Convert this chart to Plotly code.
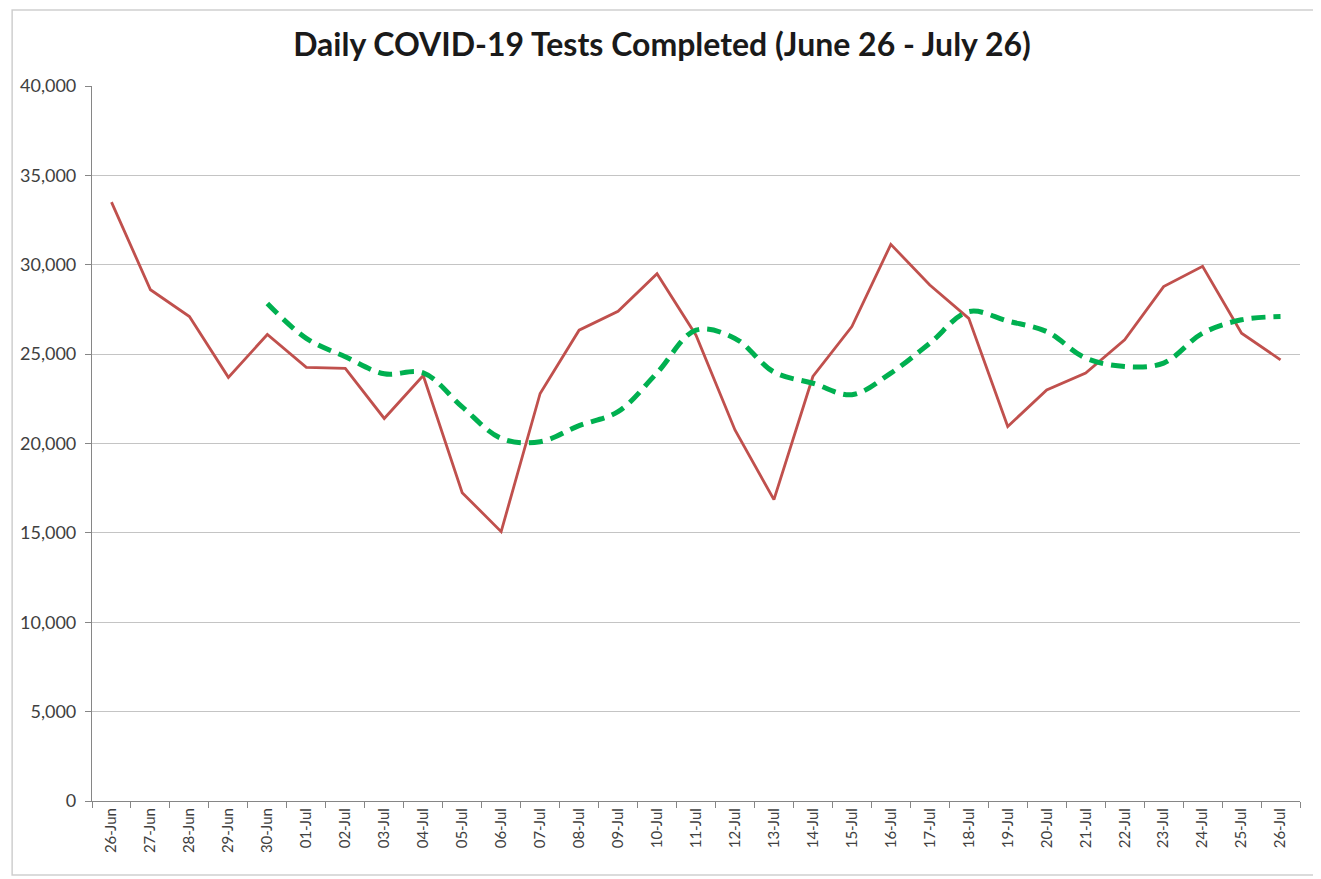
import plotly.graph_objects as go

dates = ["26-Jun", "27-Jun", "28-Jun", "29-Jun", "30-Jun", "01-Jul", "02-Jul", "03-Jul",
         "04-Jul", "05-Jul", "06-Jul", "07-Jul", "08-Jul", "09-Jul", "10-Jul", "11-Jul",
         "12-Jul", "13-Jul", "14-Jul", "15-Jul", "16-Jul", "17-Jul", "18-Jul", "19-Jul",
         "20-Jul", "21-Jul", "22-Jul", "23-Jul", "24-Jul", "25-Jul", "26-Jul"]

daily_tests = [33500, 28600, 27100, 23700, 26100, 24260, 24200, 21400,
               23800, 17250, 15070, 22800, 26340, 27400, 29500, 26060,
               20760, 16860, 23750, 26540, 31140, 28870, 27000, 20950,
               23000, 23940, 25800, 28780, 29910, 26170, 24680]

moving_avg = [None, None, None, None, 27830, 25880, 24850, 23900,
              23950, 22050, 20290, 20100, 21000, 21780, 23950, 26340,
              25880, 24000, 23370, 22730, 23940, 25610, 27380, 26850,
              26260, 24780, 24310, 24500, 26170, 26920, 27100]

y_ticks = [0, 5000, 10000, 15000, 20000, 25000, 30000, 35000, 40000]

fig = go.Figure()
fig.add_trace(go.Scatter(
    x=dates, y=daily_tests, mode="lines",
    line=dict(color="#C0504D", width=2.8),
    showlegend=False, name="Daily tests"))
fig.add_trace(go.Scatter(
    x=dates, y=moving_avg, mode="lines",
    line=dict(color="#00B050", width=5, dash="14px,8px", shape="spline", smoothing=1),
    showlegend=False, name="7-day average"))

fig.update_layout(
    width=1321, height=879,
    margin=dict(l=82, r=29, t=78, b=86),
    paper_bgcolor="white", plot_bgcolor="white",
    font=dict(family="Lato, 'Open Sans', sans-serif", color="#404040", size=15),
    title=dict(text="<b>Daily COVID-19 Tests Completed (June 26 - July 26)</b>",
               x=(662 - 8) / 1321, xref="container", xanchor="center",
               y=1 - 37 / 879, yref="container", yanchor="middle",
               font=dict(family="Lato, 'Open Sans', sans-serif", size=32, color="#1a1a1a")),
    xaxis=dict(type="category", range=[-0.5, len(dates) - 0.5],
               showline=True, linecolor="#868686", linewidth=1.2,
               ticks="outside", tickson="boundaries", ticklen=6, tickcolor="#868686",
               tickangle=-90, showgrid=False, tickfont=dict(size=15, color="#404040")),
    yaxis=dict(range=[0, 40000], tickvals=y_ticks, tickformat=",d",
               showline=True, linecolor="#868686", linewidth=1.2,
               ticks="outside", ticklen=6, tickcolor="#868686",
               gridcolor="#c4c4c4", gridwidth=1.3, zeroline=False,
               ticklabelstandoff=5, tickfont=dict(size=18, color="#404040")),
    shapes=[dict(type="rect", xref="paper", yref="paper",
                 x0=(10 - 90) / 1210, x1=(1316 - 90) / 1210,
                 y0=(801 - 875) / 715, y1=(801 - 10) / 715,
                 line=dict(color="#cfcfcf", width=1.5), fillcolor="rgba(0,0,0,0)",
                 layer="below")],
)

fig.write_html("out.html")
